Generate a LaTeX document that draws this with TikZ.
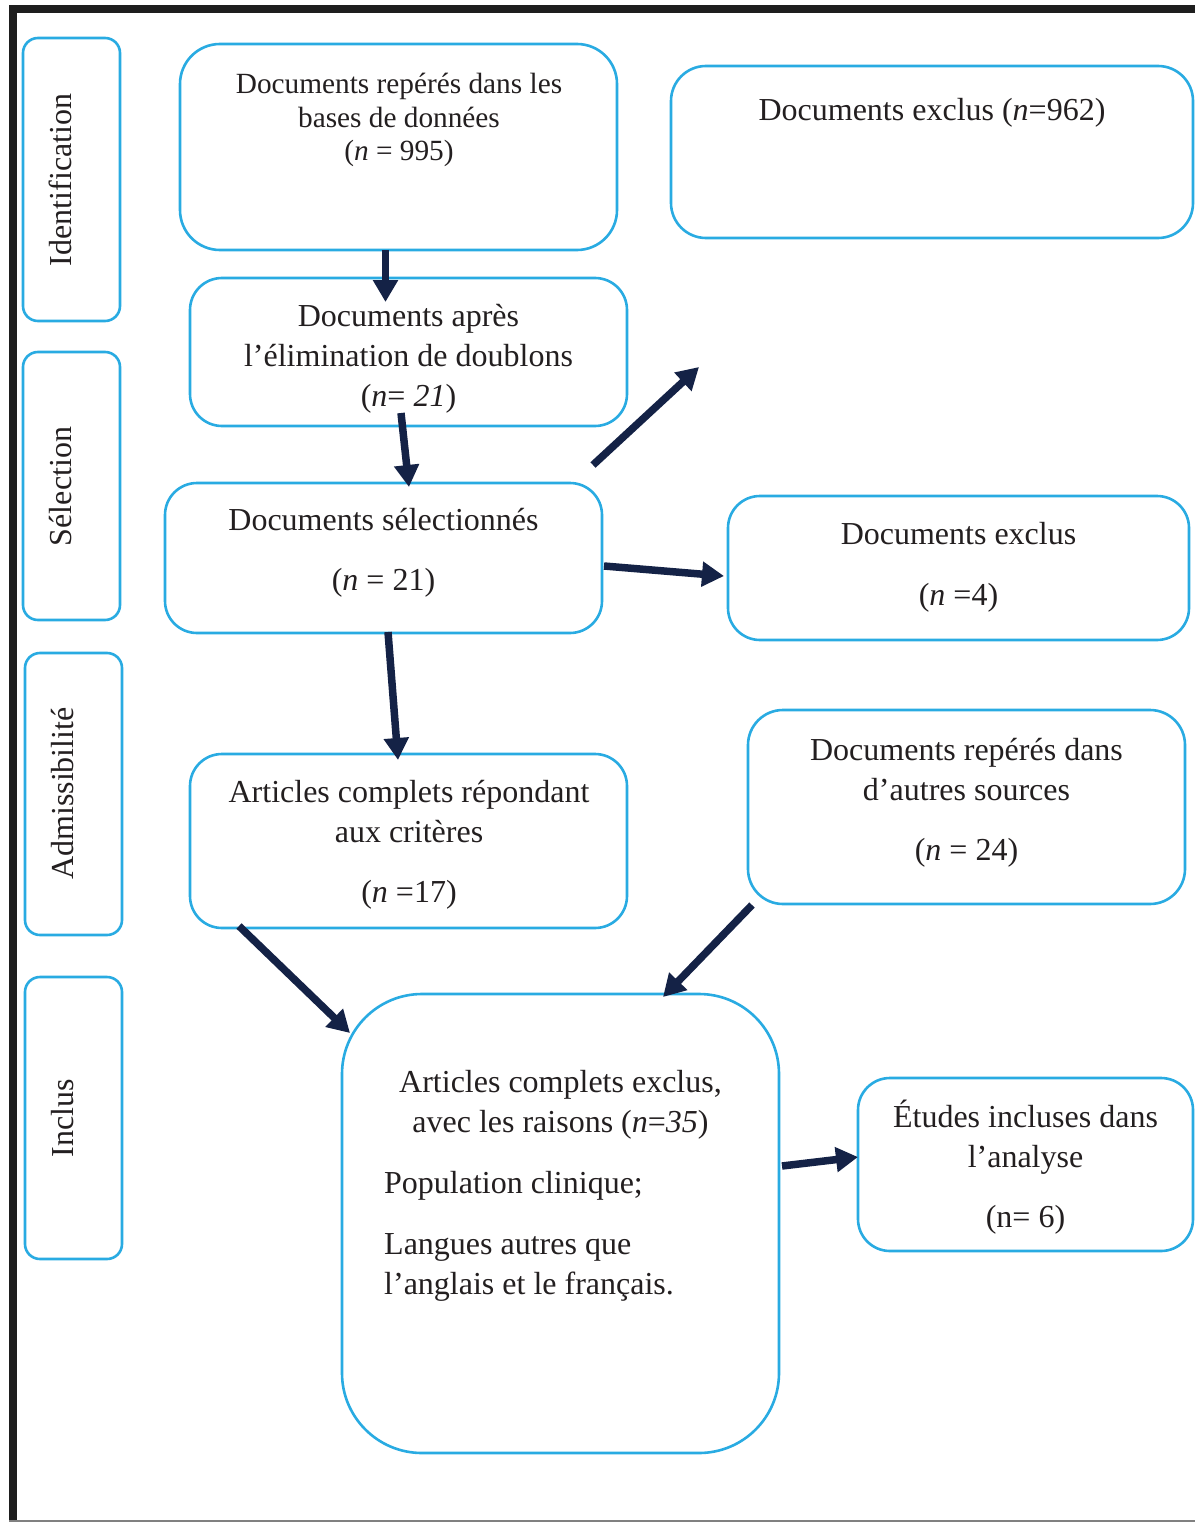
\documentclass[tikz,border=0pt]{standalone}
\usepackage{fontspec}
\setmainfont{Liberation Serif}
\usetikzlibrary{arrows.meta}
\definecolor{boxblue}{RGB}{41,171,226}
\definecolor{navy}{RGB}{20,34,70}
\definecolor{ink}{RGB}{35,31,32}
\definecolor{framek}{RGB}{30,30,30}
\newcommand{\mlines}[1]{\begin{tabular}[t]{@{}c@{}}#1\end{tabular}}
\newcommand{\llines}[1]{\begin{tabular}[t]{@{}l@{}}#1\end{tabular}}
\newcommand{\fbig}{\fontsize{32}{40}\selectfont}
\newcommand{\fsmall}{\fontsize{29.3}{33.5}\selectfont}
\tikzset{
  box/.style={draw=boxblue, line width=2.6pt, rounded corners=#1, inner sep=0pt, outer sep=0pt},
  box/.default=35pt,
  txt/.style={text=ink, inner sep=0pt, anchor=base, font=\fbig},
  arr/.style={draw=navy, line width=7.5pt, -{Triangle[length=22pt,width=24pt]}},
}
\begin{document}
\begin{tikzpicture}[x=1pt,y=-1pt]
\useasboundingbox (0,0) rectangle (1195,1522);
% frame
\fill[white] (0,0) rectangle (1195,1522);
\draw[framek, line width=8pt] (13,1522) -- (13,9.5) -- (1195,9.5);
\draw[gray, line width=1.2pt] (9,1521) -- (1195,1521);

% side labels
\node[box=15pt, minimum width=97pt, minimum height=283pt] (sid) at (71.5,179.5) {};
\node[box=15pt, minimum width=97pt, minimum height=268pt] (ssel) at (71.5,486) {};
\node[box=15pt, minimum width=97pt, minimum height=282pt] (sadm) at (73.5,794) {};
\node[box=15pt, minimum width=97pt, minimum height=282pt] (sinc) at (73.5,1118) {};
\node[txt, rotate=90] (lid) at (71,180) {Identification};
\node[txt, rotate=90] (lsel) at (71,486.5) {Sélection};
\node[txt, rotate=90] (ladm) at (73,793.5) {Admissibilité};
\node[txt, rotate=90] (linc) at (73,1118.5) {Inclus};

% boxes
\node[box=40pt, minimum width=437pt, minimum height=206pt] (b1) at (398.5,147) {};
\node[box=35pt, minimum width=522pt, minimum height=172pt] (ex1) at (932,152) {};
\node[box=32pt, minimum width=437pt, minimum height=148pt] (b2) at (408.5,352) {};
\node[box=32pt, minimum width=437pt, minimum height=150pt] (b3) at (383.5,558) {};
\node[box=32pt, minimum width=461pt, minimum height=144pt] (ex2) at (958.5,568) {};
\node[box=32pt, minimum width=437pt, minimum height=174pt] (b4) at (408.5,841) {};
\node[box=35pt, minimum width=437pt, minimum height=194pt] (oth) at (966.5,807) {};
\node[box=80pt, minimum width=437pt, minimum height=459pt] (b5) at (560.5,1223.5) {};
\node[box=32pt, minimum width=335pt, minimum height=173pt] (inc) at (1025.5,1164.5) {};

% texts
\node[txt, font=\fsmall] (t1) at (399,94) {\mlines{Documents repérés dans les\\bases de données\\(\textit{n} = 995)}};
\node[txt] (tex1) at (932,121) {Documents exclus (\textit{n}=962)};
\node[txt] (t2) at (408.5,326) {\mlines{Documents après\\l’élimination de doublons\\(\textit{n}= \textit{21})}};
\node[txt] (t3) at (383.5,530) {\mlines{Documents sélectionnés\\[20pt](\textit{n} = 21)}};
\node[txt] (tex2) at (958.5,544) {\mlines{Documents exclus\\[21pt](\textit{n} =4)}};
\node[txt] (t4) at (409,802) {\mlines{Articles complets répondant\\aux critères\\[20pt](\textit{n} =17)}};
\node[txt] (toth) at (966.5,760) {\mlines{Documents repérés dans\\d’autres sources\\[20pt](\textit{n} = 24)}};
\node[txt] (t5) at (560.5,1092) {\mlines{Articles complets exclus,\\avec les raisons (\textit{n}=\textit{35})}};
\node[txt, anchor=base west] (t5b) at (384,1193) {\llines{Population clinique;\\[21pt]Langues autres que\\l’anglais et le français.}};
\node[txt] (tinc) at (1025.5,1127) {\mlines{Études incluses dans\\l’analyse\\[20pt](n= 6)}};

% arrow end points
\coordinate (a1s) at (385.5,250);  \coordinate (a1e) at (385.5,302);
\coordinate (a2s) at (401,413);    \coordinate (a2e) at (409,487);
\coordinate (a3s) at (593,465);    \coordinate (a3e) at (699,367);
\coordinate (a4s) at (604,566);    \coordinate (a4e) at (724,576);
\coordinate (a5s) at (388,632);    \coordinate (a5e) at (398,760);
\coordinate (a6s) at (239,926);    \coordinate (a6e) at (350,1033);
\coordinate (a7s) at (752,905);    \coordinate (a7e) at (663,997);
\coordinate (a8s) at (782,1166);   \coordinate (a8e) at (858,1157);

\draw[arr] (a1s) -- (a1e);
\draw[arr] (a2s) -- (a2e);
\draw[arr] (a3s) -- (a3e);
\draw[arr] (a4s) -- (a4e);
\draw[arr] (a5s) -- (a5e);
\draw[arr] (a6s) -- (a6e);
\draw[arr] (a7s) -- (a7e);
\draw[arr] (a8s) -- (a8e);
\end{tikzpicture}
\end{document}
